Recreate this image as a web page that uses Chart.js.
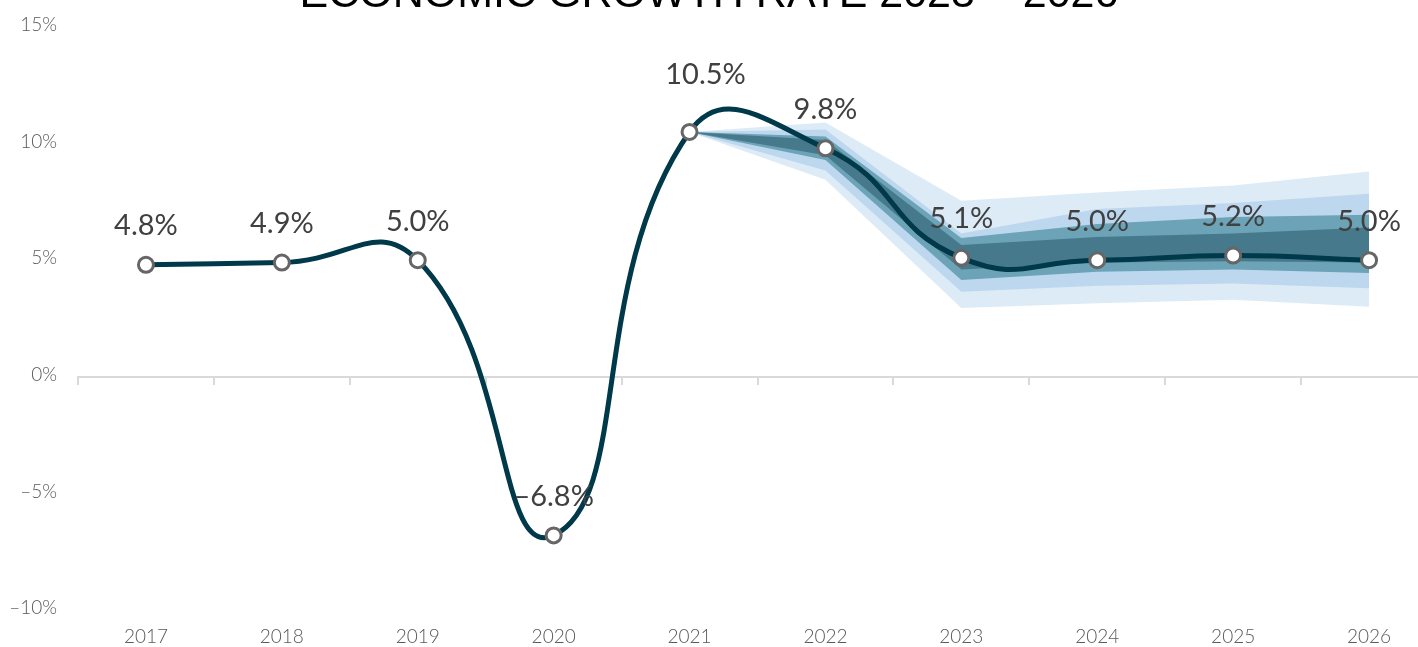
<!DOCTYPE html>
<html>
<head>
<meta charset="utf-8">
<script src="https://cdn.jsdelivr.net/npm/chart.js@4.4.1/dist/chart.umd.min.js"></script>
<style>
  html, body { margin: 0; padding: 0; background: #ffffff; overflow: hidden; width: 1418px; height: 647px; }
  #wrap { position: absolute; left: 0; top: -40px; width: 1440px; height: 687px; }
</style>
</head>
<body>
<div id="wrap"><canvas id="c" width="1440" height="687"></canvas></div>
<script>
// ---- data ----
const years = ['2017', '2018', '2019', '2020', '2021', '2022', '2023', '2024', '2025', '2026'];
const growth = [4.8, 4.9, 5.0, -6.8, 10.5, 9.8, 5.1, 5.0, 5.2, 5.0];
const growthLabels = ['4.8%', '4.9%', '5.0%', '–6.8%', '10.5%', '9.8%', '5.1%', '5.0%', '5.2%', '5.0%'];

// forecast fan bands (upper / lower edges)
const band90Upper = [null, null, null, null, 10.5, 10.9, 7.55, 7.9, 8.2, 8.8];
const band90Lower = [null, null, null, null, 10.5, 8.45, 2.95, 3.15, 3.3, 3.0];
const band70Upper = [null, null, null, null, 10.5, 10.6, 6.15, 7.2, 7.45, 7.85];
const band70Lower = [null, null, null, null, 10.5, 8.85, 3.65, 3.9, 4.0, 3.8];
const band50Upper = [null, null, null, null, 10.5, 10.3, 5.95, 6.55, 6.85, 6.95];
const band50Lower = [null, null, null, null, 10.5, 9.3, 4.15, 4.5, 4.6, 4.45];
const band30Upper = [null, null, null, null, 10.5, 10.15, 5.65, 6.0, 6.15, 6.4];
const band30Lower = [null, null, null, null, 10.5, 9.5, 4.6, 4.9, 4.95, 4.9];

const yTickValues = [-10, -5, 0, 5, 10, 15];
const chartTitle = 'ECONOMIC GROWTH RATE 2023 – 2026';

// ---- styles ----
const LINE_COLOR = '#00394A';
const BAND_COLORS = ['#46798B', '#6CA3B7', '#BDD7EE', '#DDEBF7'];

function band(data, fill, color, order) {
  return {
    data: data, fill: fill, backgroundColor: color, borderColor: color,
    borderWidth: 0, pointRadius: 0, pointHoverRadius: 0, tension: 0, order: order
  };
}

const labelPlugin = {
  id: 'pointLabels',
  afterDatasetsDraw(chart, args, opts) {
    const meta = chart.getDatasetMeta(0);
    const ctx = chart.ctx;
    ctx.save();
    ctx.font = opts.font;
    ctx.fillStyle = opts.color;
    ctx.textAlign = 'center';
    ctx.textBaseline = 'middle';
    meta.data.forEach((pt, i) => {
      const off = (opts.offsets && opts.offsets[i]) || opts.defaultOffset;
      ctx.fillText(growthLabels[i], pt.x + off[0], pt.y + off[1]);
    });
    ctx.restore();
  }
};

const titlePlugin = {
  id: 'topTitle',
  afterDraw(chart, args, opts) {
    const ctx = chart.ctx;
    ctx.save();
    ctx.font = opts.font;
    ctx.fillStyle = opts.color;
    ctx.textAlign = 'center';
    ctx.textBaseline = 'alphabetic';
    ctx.fillText(opts.text, opts.x, opts.y);
    ctx.restore();
  }
};

function fmtPct(v) {
  return (v < 0 ? '–' + Math.abs(v) : String(v)) + '%';
}

new Chart(document.getElementById('c'), {
  type: 'line',
  data: {
    labels: years,
    datasets: [
      {
        data: growth, borderColor: LINE_COLOR, borderWidth: 5, tension: 0.5,
        cubicInterpolationMode: 'default', fill: false,
        pointRadius: 7.5, pointBorderWidth: 3, pointBackgroundColor: '#ffffff',
        pointBorderColor: '#666666', order: 0
      },
      band(band30Upper, '+1', BAND_COLORS[0], 1),
      band(band30Lower, false, BAND_COLORS[0], 1),
      band(band50Upper, '+1', BAND_COLORS[1], 2),
      band(band50Lower, false, BAND_COLORS[1], 2),
      band(band70Upper, '+1', BAND_COLORS[2], 3),
      band(band70Lower, false, BAND_COLORS[2], 3),
      band(band90Upper, '+1', BAND_COLORS[3], 4),
      band(band90Lower, false, BAND_COLORS[3], 4)
    ]
  },
  options: {
    responsive: false,
    animation: false,
    layout: { autoPadding: false, padding: { left: 0, right: 3, top: 67, bottom: 0 } },
    plugins: {
      legend: { display: false },
      tooltip: { enabled: false },
      title: { display: false },
      topTitle: {
        text: chartTitle, color: '#000000',
        font: '43px "Liberation Sans", Arial, sans-serif',
        x: 709, y: 47
      },
      pointLabels: {
        font: '29px Lato, "Open Sans", sans-serif',
        color: '#404040',
        defaultOffset: [0, -39],
        offsets: { 4: [16, -57] }
      }
    },
    scales: {
      x: {
        type: 'category', position: 'bottom', offset: true,
        grid: { display: false, drawTicks: false },
        border: { display: false },
        ticks: { color: '#595959', font: { family: 'Lato, sans-serif', size: 19, weight: 300 }, padding: 15, maxRotation: 0 },
        afterFit(s) { s.height = 37; }
      },
      x2: {
        type: 'category', axis: 'x', position: { y: 0 }, offset: true,
        grid: { display: true, offset: true, drawOnChartArea: false, drawTicks: true, tickLength: 7, color: '#D9D9D9', lineWidth: 2 },
        border: { display: true, color: '#D9D9D9', width: 2 },
        ticks: { display: false },
        afterFit(s) { s.height = 0; }
      },
      y: {
        type: 'linear', position: 'left', min: -10, max: 15,
        afterBuildTicks(s) { s.ticks = yTickValues.map(v => ({ value: v })); },
        grid: { display: false, drawTicks: false },
        border: { display: false },
        ticks: {
          color: '#595959', font: { family: 'Lato, sans-serif', size: 19, weight: 300 },
          padding: 21, labelOffset: -2, callback: (v) => fmtPct(v)
        },
        afterFit(s) { s.width = 78; }
      }
    }
  },
  plugins: [labelPlugin, titlePlugin]
});
</script>
</body>
</html>
